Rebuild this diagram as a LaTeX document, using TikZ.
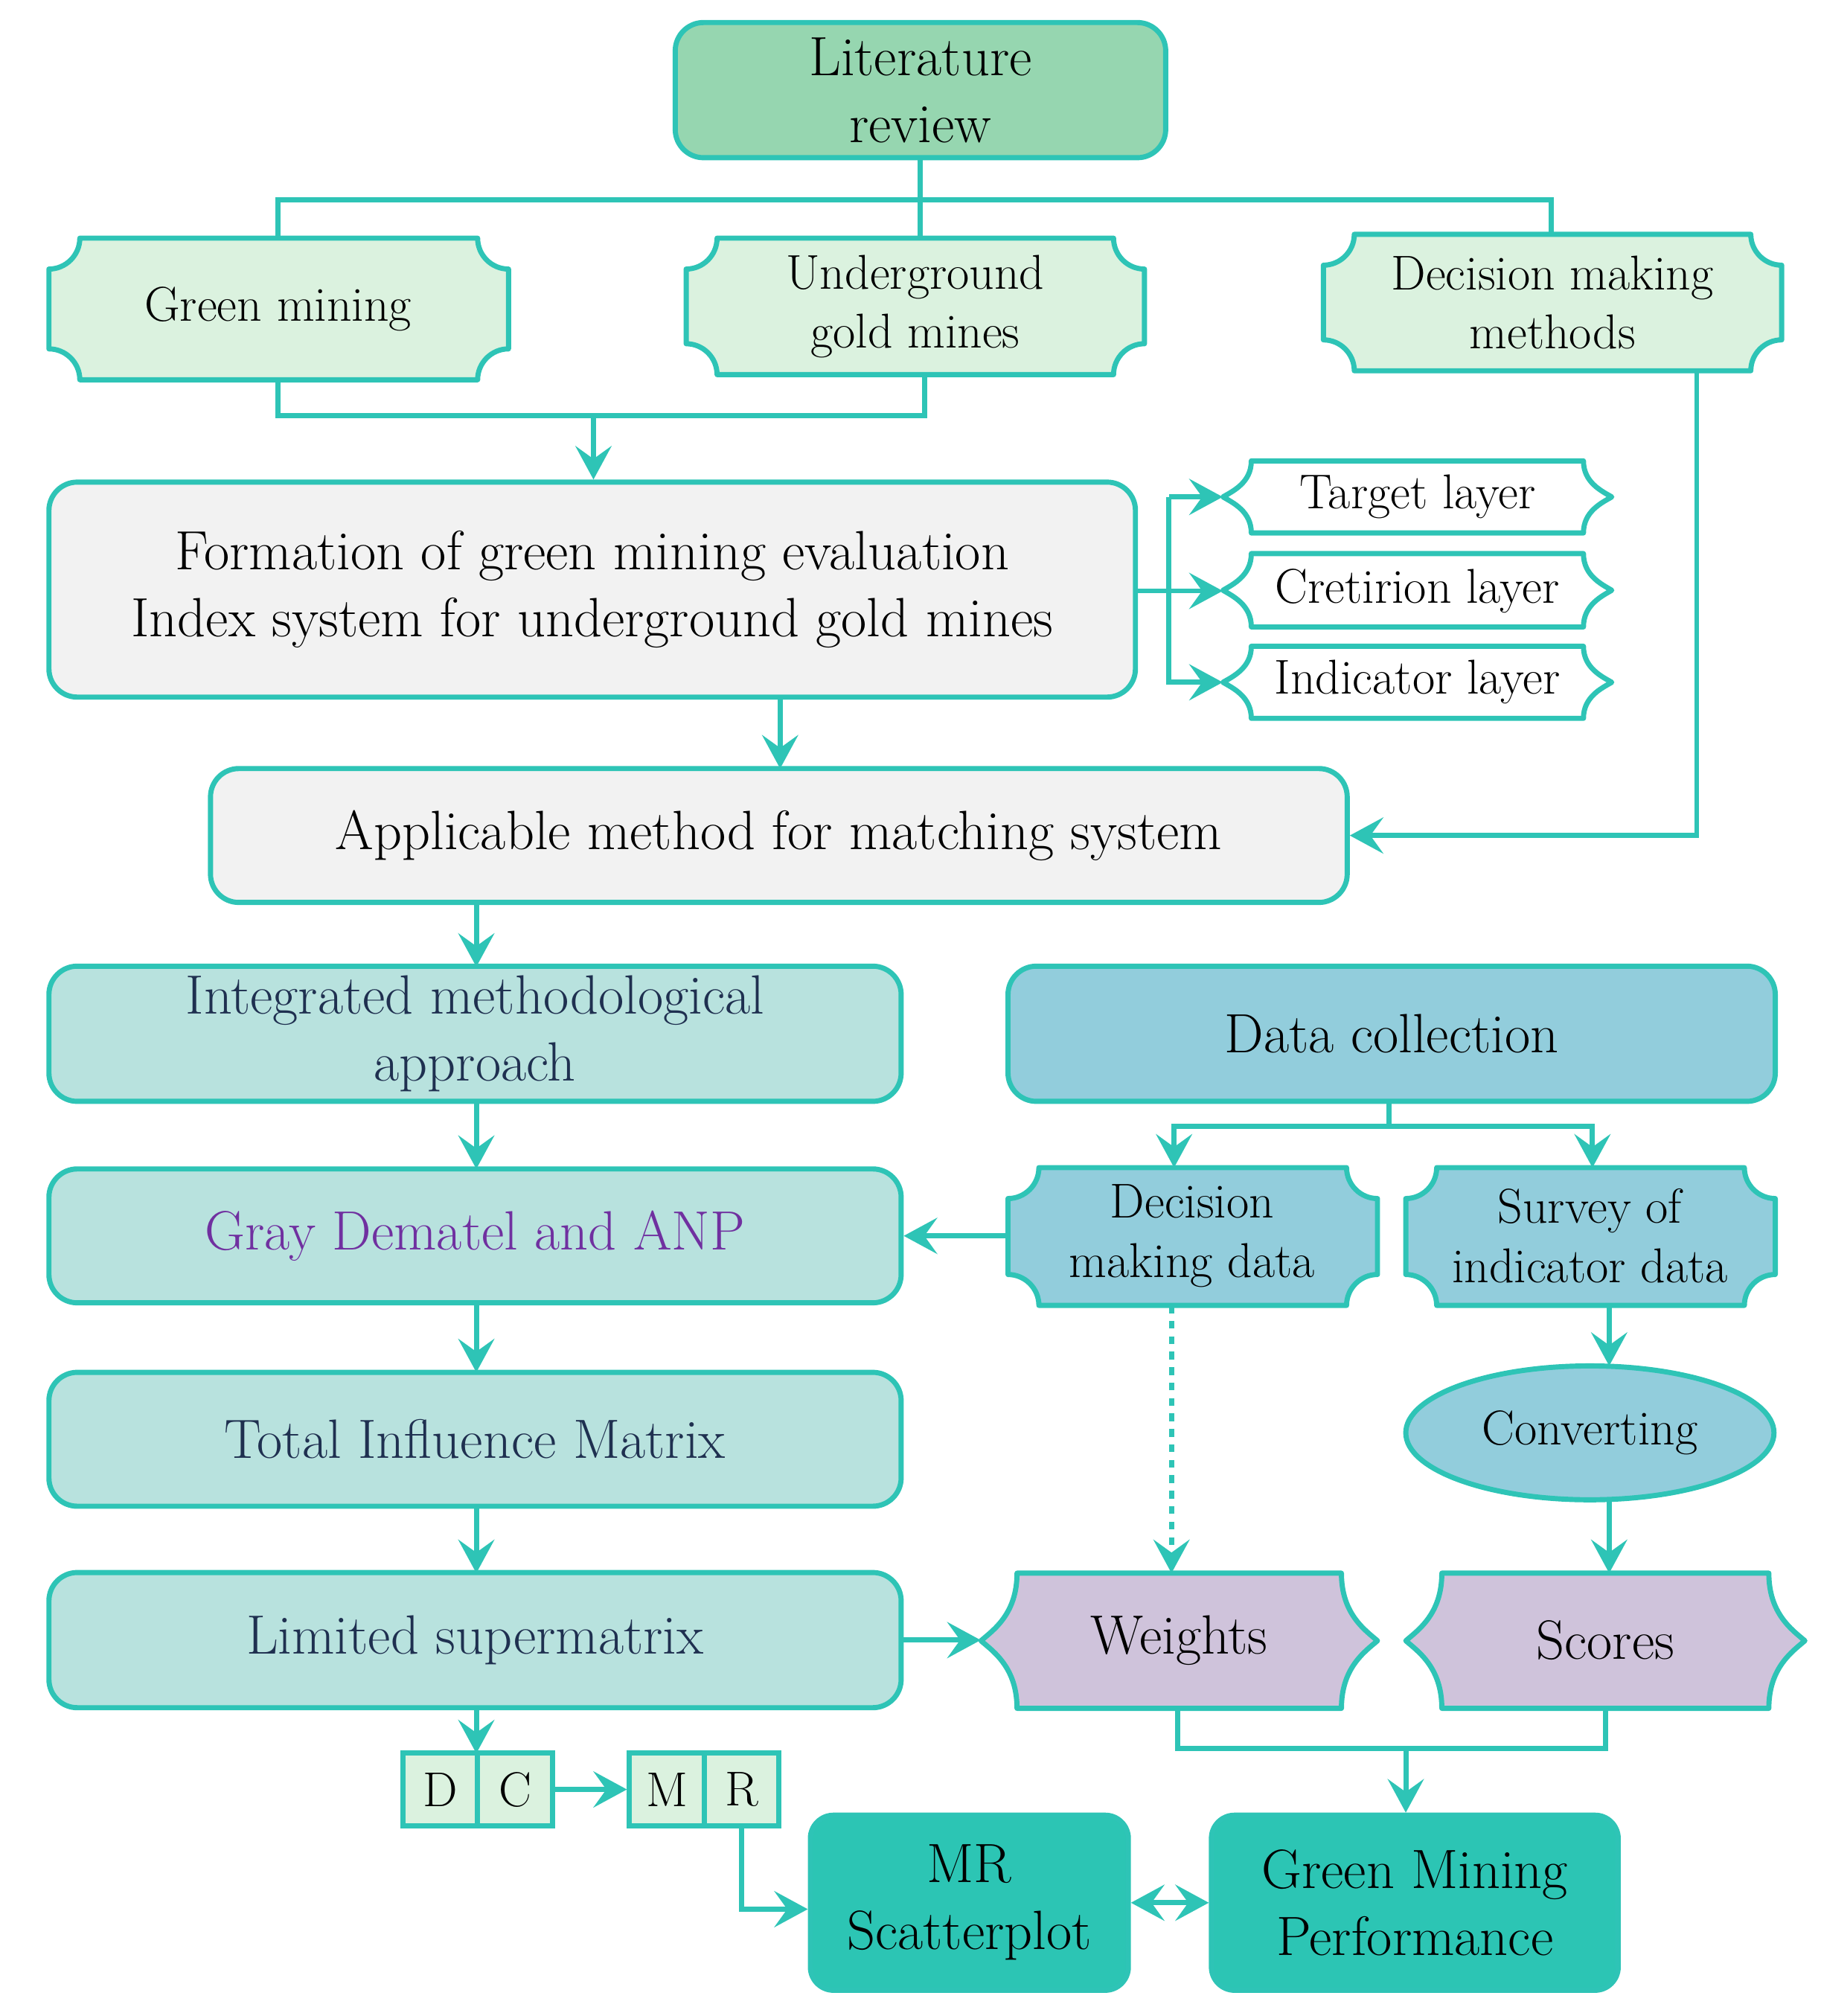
\documentclass[tikz,border=0pt]{standalone}
\usetikzlibrary{arrows.meta,shapes.geometric}
\definecolor{ln}{HTML}{2EC4B6}
\definecolor{litf}{HTML}{96D6B0}
\definecolor{lgf}{HTML}{DBF2DF}
\definecolor{grf}{HTML}{F2F2F2}
\definecolor{ptf}{HTML}{B8E2DE}
\definecolor{blf}{HTML}{92CDDC}
\definecolor{puf}{HTML}{CFC3DB}
\definecolor{dtf}{HTML}{2CC5B4}
\definecolor{navy}{HTML}{1F3050}
\definecolor{ptxt}{HTML}{7030A0}
\newcommand\notchbox[6]{%
 \path[#6] (#1,#2+#5) .. controls (#1+0.55*#5,#2+#5) and (#1+#5,#2+0.55*#5) .. (#1+#5,#2)
 -- (#3-#5,#2) .. controls (#3-#5,#2+0.55*#5) and (#3-0.55*#5,#2+#5) .. (#3,#2+#5)
 -- (#3,#4-#5) .. controls (#3-0.55*#5,#4-#5) and (#3-#5,#4-0.55*#5) .. (#3-#5,#4)
 -- (#1+#5,#4) .. controls (#1+#5,#4-0.55*#5) and (#1+0.55*#5,#4-#5) .. (#1,#4-#5) -- cycle;}
\newcommand\bracebox[6]{%
 \pgfmathsetmacro\ym{(#2+#4)/2}\pgfmathsetmacro\hh{#4-#2}%
 \path[#6] (#1+#5,#2) -- (#3-#5,#2)
 .. controls (#3-#5,\ym-0.2*\hh) and (#3-0.35*#5,\ym-0.08*\hh) .. (#3,\ym)
 .. controls (#3-0.35*#5,\ym+0.08*\hh) and (#3-#5,\ym+0.2*\hh) .. (#3-#5,#4)
 -- (#1+#5,#4)
 .. controls (#1+#5,\ym+0.2*\hh) and (#1+0.35*#5,\ym+0.08*\hh) .. (#1,\ym)
 .. controls (#1+0.35*#5,\ym-0.08*\hh) and (#1+#5,\ym-0.2*\hh) .. (#1+#5,#2) -- cycle;}
\tikzset{
 x=1pt,y=-1pt,
 shp/.style={draw=ln,line width=4pt,line join=round},
 rbox/.style={draw=ln,line width=4pt,rounded corners=22pt,align=center,inner sep=0pt},
 lbl/.style={align=center,inner sep=0pt,font=\fontsize{38}{46}\selectfont},
 big/.style={font=\fontsize{43}{52}\selectfont},
 con/.style={draw=ln,line width=4pt},
 arr/.style={con,-{Stealth[length=26pt,width=28pt,inset=10pt]}},
 darr/.style={con,{Stealth[length=26pt,width=28pt,inset=10pt]}-{Stealth[length=26pt,width=28pt,inset=10pt]}},
}
\begin{document}
\begin{tikzpicture}
\useasboundingbox (0,0) rectangle (1414,1566);
% top
\node[rbox,fill=litf,minimum width=381pt,minimum height=105pt,big] (lit) at (715,70) {Literature\\review};
\notchbox{38}{185}{395}{295}{24}{shp,fill=lgf}
\node[lbl,minimum width=357pt,minimum height=110pt] (gm) at (216,240) {Green mining};
\notchbox{533}{185}{889}{291}{24}{shp,fill=lgf}
\node[lbl,minimum width=356pt,minimum height=106pt] (ug) at (711,238) {Underground\\gold mines};
\notchbox{1028}{182}{1384}{288}{24}{shp,fill=lgf}
\node[lbl,minimum width=356pt,minimum height=106pt] (dm) at (1206,235) {Decision making\\methods};
\coordinate (t1) at (715,155);
\draw[con] (lit.south) -- (t1) -| (216,185);
\draw[con] (t1) -| (1205,182);
\draw[con] (t1) -- (715,185);
% formation
\node[rbox,fill=grf,minimum width=844pt,minimum height=167pt,big] (form) at (460,458) {Formation of green mining evaluation\\Index system for underground gold mines};
\coordinate (j1) at (461,323);
\draw[con] (216,295) |- (718,323) -- (718,291);
\draw[arr] (j1) -- (form.north -| j1);
\bracebox{950}{358}{1252}{414}{22}{shp,fill=white}
\node[lbl,minimum width=302pt,minimum height=56pt] (tl) at (1101,386) {Target layer};
\bracebox{950}{430}{1252}{487}{22}{shp,fill=white}
\node[lbl,minimum width=302pt,minimum height=57pt] (cl) at (1101,459) {Cretirion layer};
\bracebox{950}{502}{1252}{558}{22}{shp,fill=white}
\node[lbl,minimum width=302pt,minimum height=56pt] (il) at (1101,530) {Indicator layer};
\coordinate (v1) at (908,459);
\draw[con] (form.east |- v1) -- (v1);
\draw[arr] (908,386) -- (tl.west);
\draw[arr] (v1) -- (cl.west);
\draw[arr] (908,386) |- (il.west);
% applicable
\node[rbox,fill=grf,minimum width=883pt,minimum height=104pt,big] (app) at (605,649) {Applicable method for matching system};
\draw[arr] (606,542) -- (606,597);
\draw[arr] (1318,288) |- (app.east);
% left column
\node[rbox,fill=ptf,text=navy,minimum width=662pt,minimum height=105pt,big] (int) at (369,803) {Integrated methodological\\approach};
\node[rbox,fill=ptf,text=ptxt,minimum width=662pt,minimum height=104pt,big] (gd) at (369,960) {Gray Dematel and ANP};
\node[rbox,fill=ptf,text=navy,minimum width=662pt,minimum height=104pt,big] (tim) at (369,1118) {Total Influence Matrix};
\node[rbox,fill=ptf,text=navy,minimum width=662pt,minimum height=105pt,big] (ls) at (369,1274) {Limited supermatrix};
\draw[arr] (370,701) -- (370,751);
\draw[arr] (370,856) -- (370,908);
\draw[arr] (370,1012) -- (370,1066);
\draw[arr] (370,1170) -- (370,1222);
% data
\node[rbox,fill=blf,minimum width=596pt,minimum height=105pt,big] (dc) at (1081,803) {Data collection};
\notchbox{783}{907}{1070}{1014}{24}{shp,fill=blf}
\node[lbl,minimum width=287pt,minimum height=107pt] (dmd) at (926,960) {Decision\\making data};
\notchbox{1092}{907}{1379}{1014}{24}{shp,fill=blf}
\node[lbl,minimum width=287pt,minimum height=107pt] (sid) at (1235,960) {Survey of\\indicator data};
\coordinate (j2) at (1079,875);
\draw[con] (dc.south -| j2) -- (j2);
\draw[arr] (j2) -| (912,907);
\draw[arr] (j2) -| (1237,907);
\draw[arr] (dmd.west) -- (gd.east);
\node[ellipse,draw=ln,line width=4pt,fill=blf,minimum width=286pt,minimum height=104pt,inner sep=0pt,font=\fontsize{38}{46}\selectfont] (cv) at (1235,1113) {Converting};
\draw[arr] (1250,1014) -- (1250,1061);
\draw[arr] (1250,1165) -- (1250,1222);
\bracebox{762}{1222}{1070}{1327}{28}{shp,fill=puf}
\node[lbl,big,minimum width=308pt,minimum height=105pt] (wt) at (916,1274) {Weights};
\bracebox{1092}{1222}{1402}{1327}{28}{shp,fill=puf}
\node[lbl,big,minimum width=310pt,minimum height=105pt] (sc) at (1247,1274) {Scores};
\draw[arr,dash pattern=on 6pt off 6pt] (910,1014) -- (910,1222);
\draw[arr] (ls.east) -- (wt.west);
% bottom
\node[rbox,fill=dtf,rounded corners=18pt,minimum width=247pt,minimum height=136pt,big] (mr) at (753,1478) {MR\\Scatterplot};
\node[rbox,fill=dtf,rounded corners=18pt,minimum width=316pt,minimum height=136pt,big] (gp) at (1099,1478) {Green Mining\\Performance};
\draw[con] (915,1327) |- (1247,1358) -- (1247,1327);
\draw[arr] (1092,1358) -- (gp.north -| 1092,0);
\tikzset{cell/.style={draw=ln,line width=4pt,fill=lgf,minimum width=58pt,minimum height=57pt,inner sep=0pt,font=\fontsize{38}{46}\selectfont}}
\node[cell] (D) at (342,1390) {D};
\node[cell] (C) at (400,1390) {C};
\node[cell] (M) at (518,1390) {M};
\node[cell] (R) at (576,1390) {R};
\draw[arr] (370,1327) -- (370,1362);
\draw[arr] (C.east) -- (M.west);
\draw[arr] (R.south) |- (mr.west |- 0,1483);
\draw[darr] (mr.east) -- (gp.west);
\end{tikzpicture}
\end{document}
